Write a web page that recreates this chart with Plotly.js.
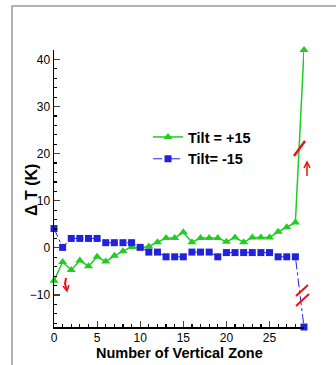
<!DOCTYPE html>
<html><head><meta charset="utf-8">
<script src="https://cdn.plot.ly/plotly-3.0.1.min.js"></script>
<style>html,body{margin:0;padding:0;background:#fff;}#c{width:336px;height:365px;}</style>
</head><body><div id="c"></div>
<script>
var zones = [];
for (var i = 0; i <= 29; i++) zones.push(i);
var tiltPlus = [-7, -3, -4.7, -2.7, -3.9, -1.9, -2.9, -1.7, -0.7, 0.2, 0, 0.3, 1.2, 2.1, 2.1, 3.3, 1.2, 2.1, 2.1, 2.1, 1.3, 2.2, 1.2, 2.2, 2.2, 2.2, 3.4, 4.4, 5.4, 42];
var tiltMinus = [4.1, 0.1, 2, 2, 2, 2, 1.1, 1.1, 1.1, 1.1, 0.1, -0.9, -0.9, -1.9, -1.9, -1.9, -0.9, -0.9, -0.9, -1.9, -1, -1, -1, -1, -1, -1, -1.9, -1.9, -1.9, -16.8];
var xTicks = [0, 5, 10, 15, 20, 25];
var yTicks = [-10, 0, 10, 20, 30, 40];

var L = 54, R = 304, T = 50, B = 327;
function px(x){ return (x - L) / (R - L); }
function py(y){ return (B - y) / (B - T); }
function path(pts){
  return pts.map(function(p, k){ return (k ? 'L' : 'M') + px(p[0]).toFixed(4) + ',' + py(p[1]).toFixed(4); }).join(' ');
}
var FONT = 'Liberation Sans, Arial, sans-serif';

var traces = [
  {x: zones, y: tiltPlus, name: 'Tilt = +15', mode: 'lines+markers',
   line: {color: '#22cc22', width: 1.5},
   marker: {symbol: 'triangle-up', size: 8, color: '#22cc22'}, cliponaxis: false},
  {x: zones, y: tiltMinus, name: 'Tilt= -15', mode: 'lines+markers',
   line: {color: '#2222dd', width: 1, dash: 'dashdot'},
   marker: {symbol: 'square', size: 7, color: '#2222dd'}, cliponaxis: false}
];

var red = {color: '#ee1111', width: 2.5};
var layout = {
  width: 336, height: 365,
  margin: {l: L, r: 336 - R, t: T, b: 365 - B},
  paper_bgcolor: '#fff', plot_bgcolor: '#fff',
  font: {family: FONT, color: '#000'},
  showlegend: true,
  legend: {x: px(148), y: py(121), xanchor: 'left', yanchor: 'top',
           font: {size: 14.5, family: FONT, weight: 'bold'},
           bgcolor: 'rgba(0,0,0,0)', tracegroupgap: 0},
  xaxis: {range: [0, 29], tickvals: xTicks, ticks: 'inside', ticklen: 6, tickwidth: 1.2,
          minor: {dtick: 1, ticks: 'inside', ticklen: 3, tickcolor: '#000'},
          showgrid: false, zeroline: false, showline: true, linecolor: '#000', linewidth: 1.5,
          tickfont: {size: 12, family: FONT}, ticklabelstandoff: -1},
  yaxis: {range: [-16.8, 42], tickvals: yTicks, ticks: 'inside', ticklen: 6, tickwidth: 1.2,
          minor: {dtick: 2, ticks: 'inside', ticklen: 3, tickcolor: '#000'},
          showgrid: false, zeroline: false, showline: true, linecolor: '#000', linewidth: 1.5,
          tickfont: {size: 12, family: FONT}},
  annotations: [
    {text: '<b>Δ T (K)</b>', xref: 'paper', yref: 'paper', x: px(31), y: py(190),
     xanchor: 'center', yanchor: 'middle', textangle: -90, showarrow: false,
     font: {size: 16, family: FONT}},
    {text: '<b>Number of Vertical Zone</b>', xref: 'paper', yref: 'paper', x: px(179), y: py(353),
     xanchor: 'center', yanchor: 'middle', showarrow: false,
     font: {size: 14.5, family: FONT}}
  ],
  shapes: [
    {type: 'rect', xref: 'paper', yref: 'paper', x0: px(12), y0: py(380), x1: px(345), y1: py(6),
     line: {color: '#999', width: 1.5}, layer: 'below'},
    {type: 'path', xref: 'paper', yref: 'paper', path: path([[66,278],[65,284],[67,290]]), line: {color: '#ee1111', width: 2}},
    {type: 'path', xref: 'paper', yref: 'paper', path: path([[63,286],[67,291],[69,285]]), line: {color: '#ee1111', width: 1.5}},
    {type: 'path', xref: 'paper', yref: 'paper', path: path([[307,176],[307,164]]), line: {color: '#ee1111', width: 1.5}},
    {type: 'path', xref: 'paper', yref: 'paper', path: path([[304,168],[307,162],[310,168]]), line: {color: '#ee1111', width: 1.5}},
    {type: 'path', xref: 'paper', yref: 'paper', path: path([[294,156],[305,141]]), line: red},
    {type: 'path', xref: 'paper', yref: 'paper', path: path([[296,296],[308,285]]), line: {color: '#ee1111', width: 2}},
    {type: 'path', xref: 'paper', yref: 'paper', path: path([[296,306],[309,294]]), line: {color: '#ee1111', width: 2}}
  ]
};
Plotly.newPlot('c', traces, layout, {displayModeBar: false, staticPlot: true});
</script></body></html>
